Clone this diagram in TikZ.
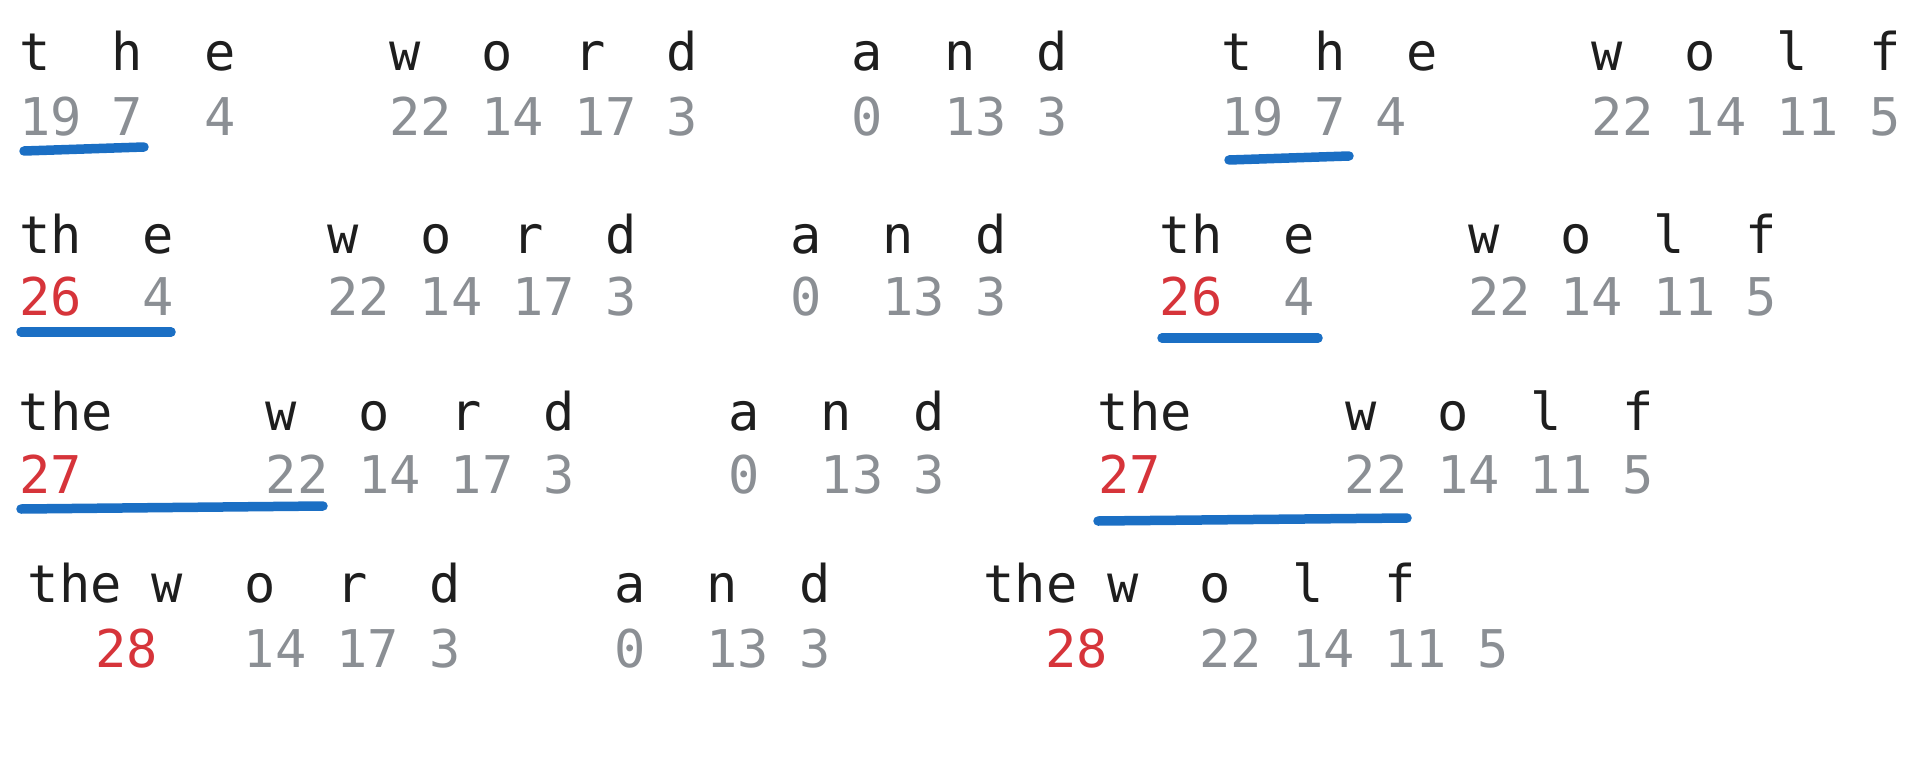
\documentclass[tikz,border=0pt]{standalone}
\usepackage{fontspec}
\setmonofont{DejaVu Sans Mono}
\definecolor{ink}{HTML}{1E1E1E}
\definecolor{numgray}{HTML}{8B8F94}
\definecolor{numred}{HTML}{D6343A}
\definecolor{ulblue}{HTML}{1B6FC4}
\tikzset{
  letter/.style={font=\ttfamily\fontsize{52}{60}\selectfont, text=ink, inner sep=0pt, anchor=base},
  num/.style={font=\ttfamily\fontsize{52}{60}\selectfont, inner sep=0pt, anchor=base},
  uline/.style={draw=ulblue, line width=9.5pt, line cap=round},
}
\begin{document}
\begin{tikzpicture}[x=1pt,y=-1pt]
\useasboundingbox (0,0) rectangle (1919,779);
\def\cw{30.83}
% ---------- row 1 ----------
\foreach \c/\t [count=\i] in {0/t,3/h,6/e,12/w,15/o,18/r,21/d,27/a,30/n,33/d,39/t,42/h,45/e,51/w,54/o,57/l,60/f}
  \node[letter] (ra\i) at ({35+\c*\cw},70) {\t};
\foreach \c/\t/\k [count=\i] in {0.5/19/numgray,3/7/numgray,6/4/numgray,12.5/22/numgray,15.5/14/numgray,18.5/17/numgray,21/3/numgray,27/0/numgray,30.5/13/numgray,33/3/numgray,39.5/19/numgray,42/7/numgray,44/4/numgray,51.5/22/numgray,54.5/14/numgray,57.5/11/numgray,60/5/numgray}
  \node[num, text=\k] (na\i) at ({35+\c*\cw},135) {\t};
\draw[uline] (24,151) -- (144,147);
\draw[uline] (1229,160) -- (1349,156);
% ---------- row 2 ----------
\foreach \c/\t [count=\i] in {0.5/th,4/e,10/w,13/o,16/r,19/d,25/a,28/n,31/d,37.5/th,41/e,47/w,50/o,53/l,56/f}
  \node[letter] (rb\i) at ({35+\c*\cw},253) {\t};
\foreach \c/\t/\k [count=\i] in {0.5/26/numred,4/4/numgray,10.5/22/numgray,13.5/14/numgray,16.5/17/numgray,19/3/numgray,25/0/numgray,28.5/13/numgray,31/3/numgray,37.5/26/numred,41/4/numgray,47.5/22/numgray,50.5/14/numgray,53.5/11/numgray,56/5/numgray}
  \node[num, text=\k] (nb\i) at ({35+\c*\cw},315) {\t};
\draw[uline] (21,332) -- (171,332);
\draw[uline] (1162,338) -- (1318,338);
% ---------- row 3 ----------
\foreach \c/\t [count=\i] in {1/the,8/w,11/o,14/r,17/d,23/a,26/n,29/d,36/the,43/w,46/o,49/l,52/f}
  \node[letter] (rc\i) at ({35+\c*\cw},430) {\t};
\foreach \c/\t/\k [count=\i] in {0.5/27/numred,8.5/22/numgray,11.5/14/numgray,14.5/17/numgray,17/3/numgray,23/0/numgray,26.5/13/numgray,29/3/numgray,35.5/27/numred,43.5/22/numgray,46.5/14/numgray,49.5/11/numgray,52/5/numgray}
  \node[num, text=\k] (nc\i) at ({35+\c*\cw},493) {\t};
\draw[uline] (21,509) -- (323,506);
\draw[uline] (1098,521) -- (1407,518);
% ---------- row 4 ----------
\foreach \c/\t [count=\i] in {1/the,4/w,7/o,10/r,13/d,19/a,22/n,25/d,32/the,35/w,38/o,41/l,44/f}
  \node[letter] (rd\i) at ({44+\c*\cw},602) {\t};
\foreach \c/\t/\k [count=\i] in {2.69/28/numred,7.5/14/numgray,10.5/17/numgray,13/3/numgray,19/0/numgray,22.5/13/numgray,25/3/numgray,33.5/28/numred,38.5/22/numgray,41.5/14/numgray,44.5/11/numgray,47/5/numgray}
  \node[num, text=\k] (nd\i) at ({44+\c*\cw},667) {\t};
\end{tikzpicture}
\end{document}
